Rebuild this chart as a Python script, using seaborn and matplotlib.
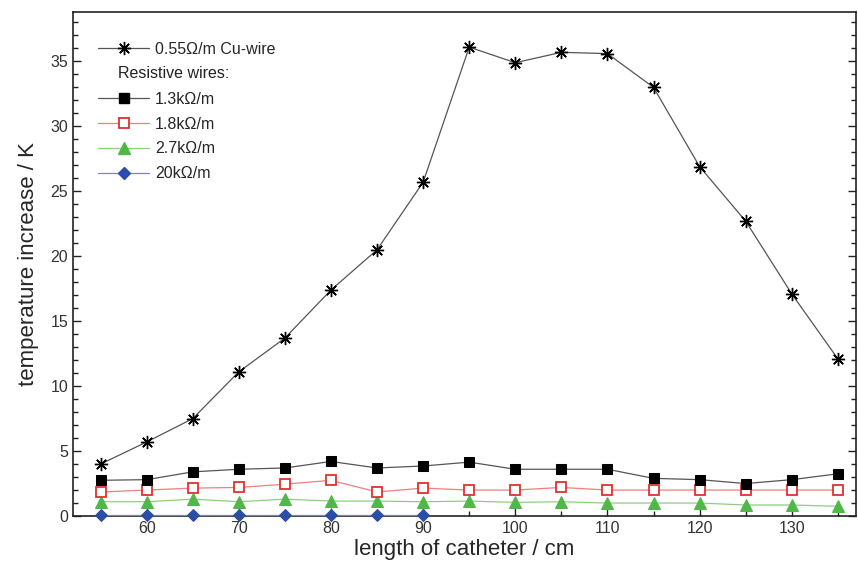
import numpy as np
import pandas as pd
import matplotlib
matplotlib.use("Agg")
import matplotlib.pyplot as plt
from matplotlib.lines import Line2D
from matplotlib.ticker import MultipleLocator
import seaborn as sns

# catheter length (cm)
length = [55, 60, 65, 70, 75, 80, 85, 90, 95, 100, 105, 110, 115, 120, 125, 130, 135]

cu_055 = [4.0, 5.7, 7.5, 11.1, 13.7, 17.4, 20.5, 25.7, 36.1, 34.9, 35.7, 35.6, 33.0, 26.9, 22.7, 17.1, 12.1]
r_13k = [2.75, 2.8, 3.4, 3.6, 3.7, 4.2, 3.7, 3.85, 4.15, 3.6, 3.6, 3.6, 2.9, 2.8, 2.5, 2.8, 3.25]
r_18k = [1.85, 2.0, 2.15, 2.2, 2.45, 2.75, 1.85, 2.15, 2.0, 2.0, 2.2, 2.0, 2.0, 2.0, 2.0, 2.0, 2.0]
r_27k = [1.1, 1.1, 1.3, 1.1, 1.3, 1.15, 1.15, 1.1, 1.15, 1.05, 1.1, 1.0, 1.0, 1.0, 0.85, 0.85, 0.75]
length_20k = [55, 60, 65, 70, 75, 80, 85, 90]
r_20k = [0.05, 0.05, 0.05, 0.05, 0.05, 0.05, 0.05, 0.05]

sns.set_style("ticks")
plt.rcParams['font.family'] = ['Liberation Sans', 'DejaVu Sans']

fig = plt.figure(figsize=(8.58, 5.74), dpi=100)
ax = fig.add_axes([0.085, 0.101, 0.913, 0.878])

df = pd.DataFrame({"length": length, "cu": cu_055, "r13": r_13k, "r18": r_18k, "r27": r_27k})
df20 = pd.DataFrame({"length": length_20k, "r20": r_20k})

sns.lineplot(data=df20, x="length", y="r20", ax=ax, color="#7f7fd0", lw=0.9,
             marker="D", markersize=6, markerfacecolor="#2a4ea8", markeredgecolor="#2a4ea8",
             clip_on=False, zorder=3)
sns.lineplot(data=df, x="length", y="r27", ax=ax, color="#8fd07f", lw=0.9,
             marker="^", markersize=8, markerfacecolor="#4fb848", markeredgecolor="#4fb848", zorder=4)
sns.lineplot(data=df, x="length", y="r18", ax=ax, color="#f07f7f", lw=0.9,
             marker="s", markersize=7, markerfacecolor="white", markeredgecolor="#e03030",
             markeredgewidth=1.3, zorder=5)
sns.lineplot(data=df, x="length", y="r13", ax=ax, color="#555555", lw=0.9,
             marker="s", markersize=7.5, markerfacecolor="black", markeredgecolor="black", zorder=6)
sns.lineplot(data=df, x="length", y="cu", ax=ax, color="#555555", lw=0.9,
             marker=(8, 2, 0), markersize=9.5, markeredgecolor="black", markeredgewidth=1.0, zorder=7)

ax.set_xlim(52, 137)
ax.set_ylim(0, 38.8)
ax.xaxis.set_major_locator(MultipleLocator(10))
ax.xaxis.set_minor_locator(MultipleLocator(5))
ax.yaxis.set_major_locator(MultipleLocator(5))
ax.yaxis.set_minor_locator(MultipleLocator(1))
ax.tick_params(axis="both", which="both", direction="in", right=True, labelsize=11.5,
               colors="#222222", labelcolor="#333333")
ax.tick_params(which="major", length=6, width=1)
ax.tick_params(which="minor", length=3.5, width=1)
ax.tick_params(axis="x", which="both", top=False)
for s in ax.spines.values():
    s.set_linewidth(1.2)
    s.set_color("#222222")

ax.set_xlabel("length of catheter / cm", fontsize=16, labelpad=2)
ax.set_ylabel("temperature increase / K", fontsize=16, labelpad=8)

handles = [
    Line2D([], [], color="#555555", lw=0.9, marker=(8, 2, 0), markersize=9.5, markeredgecolor="black"),
    Line2D([], [], color="none"),
    Line2D([], [], color="#555555", lw=0.9, marker="s", markersize=7.5, markerfacecolor="black", markeredgecolor="black"),
    Line2D([], [], color="#f07f7f", lw=0.9, marker="s", markersize=7, markerfacecolor="white", markeredgecolor="#e03030", markeredgewidth=1.3),
    Line2D([], [], color="#8fd07f", lw=0.9, marker="^", markersize=8, markerfacecolor="#4fb848", markeredgecolor="#4fb848"),
    Line2D([], [], color="#7f7fd0", lw=0.9, marker="D", markersize=6, markerfacecolor="#2a4ea8", markeredgecolor="#2a4ea8"),
]
labels = ["0.55\u03a9/m Cu-wire", "", "1.3k\u03a9/m", "1.8k\u03a9/m", "2.7k\u03a9/m", "20k\u03a9/m"]
leg = ax.legend(handles, labels, loc="upper left", bbox_to_anchor=(0.02, 0.96), frameon=False,
                fontsize=11.5, handlelength=3.2, handletextpad=0.35, labelspacing=0.62,
                borderaxespad=0.2)
ax.text(0.058, 0.879, "Resistive wires:", transform=ax.transAxes, fontsize=11.5,
        color="#222222", va="center", ha="left")

fig.savefig("out.png", dpi=100)
